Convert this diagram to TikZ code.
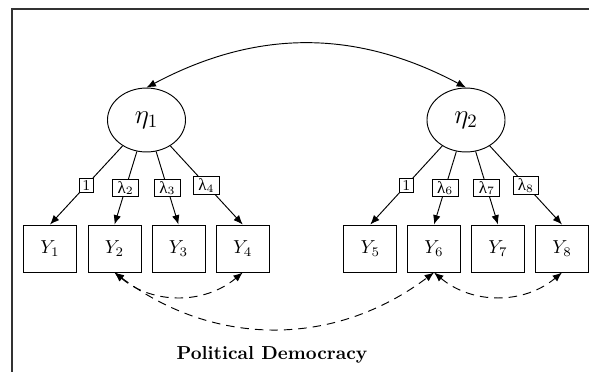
\documentclass[tikz,border=0pt]{standalone}
\usepackage{fontspec}
\newfontfamily\grk{Liberation Serif}
\usetikzlibrary{arrows.meta,shapes.geometric}
\newcommand{\lam}[1]{$\hbox{\grk λ}_{#1}$}
\begin{document}
\begin{tikzpicture}[x=0.5319pt,y=-0.5319pt,line width=0.5pt,
  latent/.style={draw,ellipse,minimum width=41.5pt,minimum height=34pt,inner sep=0pt,font=\Large},
  manifest/.style={draw,rectangle,minimum width=28.2pt,minimum height=25pt,inner sep=0pt},
  load/.style={draw,fill=white,font=\small,inner xsep=2.6pt,inner ysep=1.1pt,midway},
  fixload/.style={draw,fill=white,font=\footnotesize,inner xsep=1.6pt,inner ysep=1pt,midway},
  regr/.style={-{Latex[length=5pt,width=4pt]}},
  covar/.style={{Latex[length=5pt,width=4pt]}-{Latex[length=5pt,width=4pt]}},
  rescov/.style={covar,dash pattern=on 4.5pt off 3.2pt},
  frameline/.style={line width=0.7pt,draw=black!80}]
\useasboundingbox (0,0) rectangle (589,372);
\coordinate (fa) at (589,9);
\coordinate (fb) at (12,372);
\draw[frameline] (fa) -| (fb);
\node[latent] (eta1) at (146.5,120) {$\eta_1$};
\node[latent] (eta2) at (466,120) {$\eta_2$};
\node[manifest] (Y1) at (50,248.5) {$Y_1$};
\node[manifest] (Y2) at (114.5,248.5) {$Y_2$};
\node[manifest] (Y3) at (178.5,248.5) {$Y_3$};
\node[manifest] (Y4) at (242.7,248.5) {$Y_4$};
\node[manifest] (Y5) at (370.3,248.5) {$Y_5$};
\node[manifest] (Y6) at (434,248.5) {$Y_6$};
\node[manifest] (Y7) at (498,248.5) {$Y_7$};
\node[manifest] (Y8) at (562,248.5) {$Y_8$};
\draw[regr] (eta1) -- node[fixload]{1} (Y1.north);
\draw[regr] (eta1) -- node[load]{\lam{2}} (Y2.north);
\draw[regr] (eta1) -- node[load]{\lam{3}} (Y3.north);
\draw[regr] (eta1) -- node[load]{\lam{4}} (Y4.north);
\draw[regr] (eta2) -- node[fixload]{1} (Y5.north);
\draw[regr] (eta2) -- node[load]{\lam{6}} (Y6.north);
\draw[regr] (eta2) -- node[load]{\lam{7}} (Y7.north);
\draw[regr] (eta2) -- node[load]{\lam{8}} (Y8.north);
\draw[covar] (eta1.north) to[bend left=28] (eta2.north);
\draw[rescov] (Y2.south) to[bend right=40] (Y4.south);
\draw[rescov] (Y2.south) to[bend right=37] (Y6.south);
\draw[rescov] (Y6.south) to[bend right=40] (Y8.south);
\node[font=\bfseries] (title) at (272,355) {Political Democracy};
\end{tikzpicture}
\end{document}
